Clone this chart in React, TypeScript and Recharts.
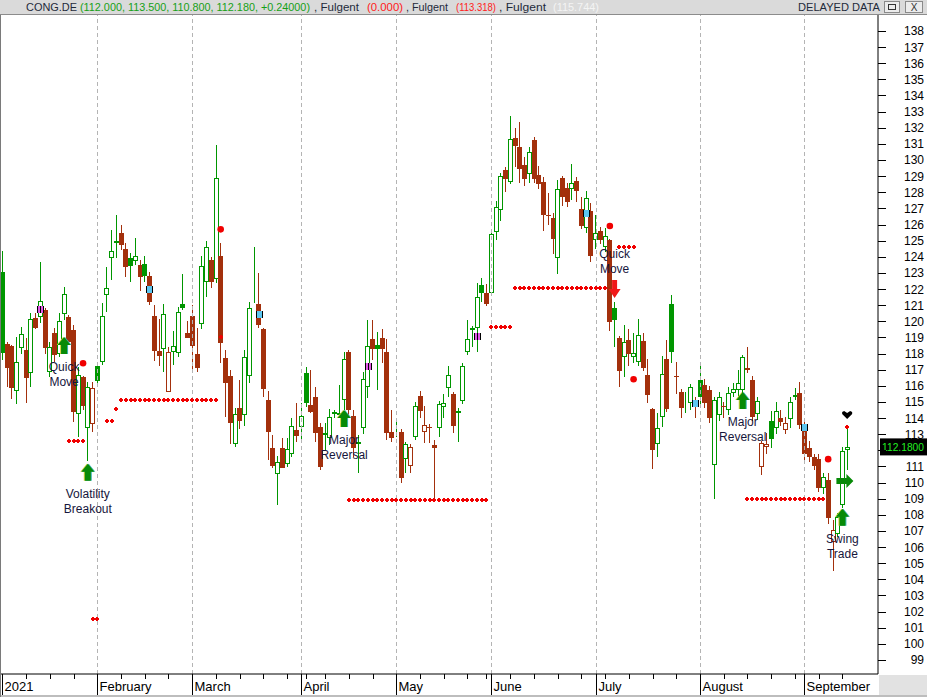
import React from "react";
import {
  ComposedChart,
  Bar,
  Line,
  XAxis,
  YAxis,
  ReferenceLine,
  ReferenceDot,
} from "recharts";

const FONT = '"Liberation Sans", Arial, sans-serif';
const GREEN = "#009600";
const BROWN = "#a3300c";
const RED = "#f00000";

const monthNames = ["2021", "February", "March", "April", "May", "June", "July", "August", "September"];
const holidays = ["2021-04-02", "2021-04-05", "2021-05-24"];

const opens = [
  123.08, 118.59, 118.47, 115.7, 118.32, 118.22, 116.77, 120.18, 120.25, 120.7, 116.88, 119.25, 117.97, 120.45, 120.25, 119.46, 114.23, 116.55, 113.36, 113.61,
  117.23, 117.5, 121.65, 123.9, 124.83, 125.47, 124.48, 123.92, 123.76, 123.49, 123.55, 122.81, 120.33, 118.18, 118.3, 115.64, 118.08, 118.02, 121.07, 119.27,
  120.33, 117.97, 119.81, 122.42, 123.8, 122.6, 124.05, 117.7, 116.61, 112.37, 114.65, 114.17, 116.63, 122.55, 121.07, 119.52, 115.12, 112.17, 110.51, 112.12, 111.15, 111.77, 113.26,
  113.43, 116.77, 114.81, 115.33, 113.47, 112.95, 112.74, 114.4, 114.2, 115.12, 118.12, 114.13, 112.37, 113.36, 115.91, 118.88, 118.51, 118.94, 118.12, 113.12,
  113.2, 113.16, 111.44, 111.05, 112.81, 115.37, 113.12, 113.45, 112.33, 113.36, 114.71, 115.84, 115.49, 114.29, 115.08, 118.08, 119.58, 119.56, 122.25, 121.73,
  121.73, 125.52, 126.9, 129.38, 128.62, 131.34, 130.79, 129.67, 129.13, 131.24, 129.05, 128.64, 126.6, 126.43, 123.95, 128.86, 128.24, 128.18, 128.7, 126.94, 125.76, 126.84,
  125.04, 125.6, 124.58, 125.04, 120.85, 118.99, 117.77, 118.84, 117.77, 117.5, 118.78, 116.65, 114.54, 112.37, 114.05, 117.64, 121.07, 116.6, 115.64, 114.9, 114.91, 115.0,
  116.36, 116.05, 115.74, 111.09, 114.19, 114.75, 114.5, 115.53, 115.74, 115.74, 117.0, 116.36, 114.23, 110.99, 112.23, 113.84, 113.36, 113.98, 113.26, 113.92, 115.32, 115.57,
  113.57, 112.12, 111.61, 111.44, 109.64, 110.16, 106.34, 106.79, 108.61, 112.0,
];
const highs = [
  124.38, 118.7, 118.5, 119.01, 119.67, 118.94, 120.49, 120.49, 123.66, 120.8, 118.74, 119.6, 120.49, 122.11, 120.39, 119.77, 117.15, 116.6, 116.26, 116.26,
  117.4, 121.16, 123.39, 125.66, 126.59, 125.97, 124.83, 124.21, 125.19, 123.8, 124.05, 123.08, 121.01, 120.12, 121.07, 118.39, 119.4, 120.91, 122.93, 120.04,
  121.01, 119.56, 124.05, 124.98, 124.01, 130.93, 124.83, 118.22, 116.98, 114.6, 116.36, 118.22, 121.2, 124.63, 123.01, 119.6, 115.68, 112.95, 111.65, 112.74, 112.74, 113.98, 114.91,
  114.91, 117.15, 117.0, 115.95, 113.67, 113.67, 114.54, 114.5, 116.05, 118.12, 118.2, 114.5, 112.95, 116.88, 120.08, 120.08, 119.36, 119.5, 118.88, 114.5,
  113.8, 113.3, 112.54, 112.4, 115.02, 115.7, 114.75, 113.6, 112.64, 115.06, 115.47, 117.23, 115.6, 114.6, 117.4, 120.08, 119.73, 122.35, 122.66, 122.29,
  125.7, 127.46, 129.2, 129.59, 132.73, 131.96, 132.36, 130.17, 130.83, 131.45, 129.63, 128.93, 127.93, 126.73, 128.76, 129.0, 128.6, 129.75, 128.93, 127.73, 128.1, 127.31,
  126.59, 125.87, 125.8, 125.1, 121.18, 119.1, 119.77, 119.5, 119.25, 120.14, 119.25, 117.64, 114.6, 114.29, 117.85, 118.84, 121.63, 117.5, 115.8, 115.6, 116.11, 115.3,
  117.23, 116.4, 116.0, 115.3, 115.64, 115.0, 115.95, 116.2, 116.98, 117.91, 118.39, 116.6, 115.33, 112.6, 113.05, 114.46, 115.02, 114.5, 114.09, 115.3, 115.84, 116.21,
  113.8, 112.6, 111.8, 111.8, 110.62, 110.62, 107.68, 108.1, 112.19, 113.5,
];
const lows = [
  117.6, 115.95, 115.2, 114.87, 118.0, 114.91, 115.95, 119.5, 119.87, 117.97, 116.57, 117.5, 117.81, 120.08, 118.5, 113.78, 112.81, 114.5, 111.36, 113.16,
  115.95, 117.29, 120.6, 122.56, 123.9, 124.42, 122.77, 122.46, 123.49, 121.9, 122.46, 121.01, 117.56, 117.25, 116.88, 115.64, 117.29, 117.81, 120.7, 118.94,
  116.82, 116.88, 119.54, 121.53, 122.04, 122.39, 117.44, 114.05, 112.37, 112.2, 113.3, 113.5, 116.15, 121.11, 119.6, 115.33, 111.4, 110.9, 108.61, 110.9, 110.95, 111.6, 112.5,
  112.54, 114.7, 114.3, 112.54, 110.78, 112.02, 112.33, 114.0, 114.1, 114.5, 114.2, 111.6, 110.62, 113.0, 115.22, 117.6, 115.74, 117.4, 112.64, 112.5,
  112.8, 110.0, 110.62, 110.6, 112.64, 114.0, 112.43, 112.43, 108.98, 112.8, 113.98, 115.33, 113.05, 112.54, 114.9, 117.9, 118.43, 118.08, 121.2, 120.95,
  121.6, 125.04, 126.24, 128.04, 128.5, 129.59, 128.6, 128.39, 128.6, 128.6, 128.2, 125.62, 125.97, 124.17, 122.91, 127.15, 127.1, 127.52, 127.42, 125.7, 125.5, 123.7,
  124.46, 124.8, 124.3, 119.42, 118.43, 115.9, 116.57, 117.25, 117.4, 117.2, 116.9, 114.91, 110.82, 111.57, 113.43, 114.4, 117.39, 115.5, 113.98, 114.3, 114.5, 114.0,
  114.9, 114.6, 113.67, 109.0, 113.8, 114.0, 114.2, 115.3, 115.33, 115.5, 116.8, 113.8, 113.9, 110.47, 111.8, 112.12, 113.0, 113.5, 113.0, 113.4, 115.1, 113.3,
  111.3, 111.3, 110.8, 109.4, 109.3, 107.4, 104.54, 106.6, 108.4, 110.8,
];
const closes = [
  118.01, 117.08, 115.84, 117.46, 119.19, 116.46, 120.12, 119.6, 121.26, 118.32, 118.39, 117.91, 120.04, 121.69, 118.7, 114.4, 116.65, 114.77, 115.91, 115.84,
  116.32, 120.33, 122.06, 124.34, 124.96, 124.73, 123.39, 123.45, 124.05, 122.77, 122.83, 121.22, 118.18, 117.87, 120.45, 118.08, 118.49, 120.56, 120.85, 118.98,
  118.49, 117.12, 123.43, 124.59, 122.42, 128.86, 118.63, 116.15, 113.67, 114.23, 113.84, 117.77, 120.8, 122.6, 119.77, 115.78, 113.16, 111.03, 111.26, 110.93, 112.06, 113.53, 112.89,
  114.15, 114.91, 114.4, 113.1, 110.99, 113.05, 114.05, 114.23, 114.3, 117.64, 114.5, 112.12, 112.54, 116.4, 118.47, 118.26, 118.28, 118.26, 113.1, 112.79,
  113.22, 110.26, 112.39, 112.19, 114.75, 114.44, 113.57, 113.37, 112.17, 114.87, 114.91, 116.67, 113.53, 114.44, 117.23, 118.88, 119.46, 121.49, 121.78, 121.05,
  125.39, 127.07, 129.01, 128.8, 131.28, 130.87, 129.46, 128.84, 130.52, 128.8, 128.49, 126.59, 126.55, 125.1, 128.18, 127.69, 127.42, 128.55, 128.1, 125.91, 127.67, 124.07,
  125.45, 125.04, 125.29, 119.98, 120.08, 116.94, 118.72, 117.95, 118.02, 119.15, 117.13, 115.43, 112.02, 113.36, 116.73, 114.56, 118.12, 116.52, 114.6, 114.92, 115.95, 114.7,
  115.33, 114.91, 113.98, 115.12, 115.29, 114.7, 115.53, 115.78, 116.15, 117.77, 117.08, 114.09, 115.06, 112.43, 112.4, 112.7, 114.46, 113.74, 113.67, 114.98, 115.4, 113.57,
  111.75, 111.61, 111.03, 109.69, 110.37, 107.78, 107.06, 107.89, 111.94, 112.18,
];

// stop-level dotted lines (index ranges on the candle axis)
const stopFrom = [14, 19, 22, 24, 25, 46, 73, 103, 108, 130, 157, 178];
const stopTo = [17, 20, 23, 24, 45, 46, 102, 107, 127, 133, 173, 178];
const stopLevel = [112.6, 101.55, 113.82, 114.56, 115.12, 119.03, 108.92, 119.67, 122.05, 124.63, 108.98, 113.43];

// big red dots
const sigIdx = [17, 46, 128, 133, 174];
const sigPrice = [117.4, 125.7, 125.91, 116.41, 111.45];

// small coloured markers on candles
const markIdx = [8, 31, 54, 77, 100, 123, 146, 169];
const markPrice = [120.74, 121.98, 120.44, 117.21, 119.06, 126.74, 114.92, 113.45];
const markKind = ["pink", "blue", "blue", "pink", "pink", "blue", "blue", "blue"];

// text annotations with arrows
const noteIdx = [13, 18, 72, 129, 156, 177];
const notePrice = [119.03, 111.16, 114.5, 121.45, 115.62, 108.37];
const noteDir = ["up", "up", "up", "down", "up", "up"];
const noteText = [
  ["Quick", "Move"],
  ["Volatility", "Breakout"],
  ["Major", "Reversal"],
  ["Quick", "Move"],
  ["Major", "Reversal"],
  ["Swing", "Trade"],
];

const priceTicks = Array.from({ length: 40 }, (_, k) => 99 + k);
const emptySlots = 6;
const lastClose = closes[closes.length - 1];

function tradingDays(n: number) {
  const out: Date[] = [];
  const d = new Date(Date.UTC(2021, 0, 4));
  while (out.length < n) {
    const dow = d.getUTCDay();
    const key = d.toISOString().slice(0, 10);
    if (dow !== 0 && dow !== 6 && !holidays.includes(key)) out.push(new Date(d.getTime()));
    d.setUTCDate(d.getUTCDate() + 1);
  }
  return out;
}

const dates = tradingDays(opens.length);
const monthStarts: number[] = [];
const weekStarts: number[] = [];
dates.forEach((d, i) => {
  if (i === 0 || d.getUTCMonth() !== dates[i - 1].getUTCMonth()) monthStarts.push(i);
  else if (d.getUTCDay() < dates[i - 1].getUTCDay()) weekStarts.push(i);
});
const axisTicks = [...monthStarts, ...weekStarts].sort((a, b) => a - b);

const rows = Array.from({ length: opens.length + emptySlots }, (_, i) => {
  if (i >= opens.length) return { i };
  const s = stopFrom.findIndex((f, k) => i >= f && i <= stopTo[k]);
  const g = sigIdx.indexOf(i);
  const m = markIdx.indexOf(i);
  return {
    i,
    o: opens[i],
    h: highs[i],
    l: lows[i],
    c: closes[i],
    prev: i > 0 ? closes[i - 1] : closes[i],
    stop: s >= 0 ? stopLevel[s] : null,
    sig: g >= 0 ? sigPrice[g] : null,
    mark: m >= 0 ? markPrice[m] : null,
    kind: m >= 0 ? markKind[m] : null,
  };
});

const Candle = (props: any) => {
  const { x, y, width, height, payload } = props;
  if (!payload || payload.h == null) return <g />;
  const top = Math.min(y, y + height);
  const span = Math.abs(height);
  const range = payload.h - payload.l || 1;
  const py = (v: number) => top + ((payload.h - v) / range) * span;
  const cx = Math.round(x + width / 2 - 0.5);
  const col = payload.c >= payload.prev ? GREEN : BROWN;
  const hollow = payload.c > payload.o;
  const bTop = Math.round(py(Math.max(payload.o, payload.c)));
  const bBot = Math.round(py(Math.min(payload.o, payload.c)));
  return (
    <g>
      <line x1={cx + 0.5} x2={cx + 0.5} y1={Math.round(top)} y2={Math.round(top + span)} stroke={col} strokeWidth={1} />
      {hollow ? (
        <rect x={cx - 1.5} y={bTop + 0.5} width={4} height={Math.max(bBot - bTop - 1, 0)} fill="#fff" stroke={col} strokeWidth={1} />
      ) : (
        <rect x={cx - 2} y={bTop} width={5} height={Math.max(bBot - bTop, 1)} fill={col} />
      )}
    </g>
  );
};

const StopDot = (p: any) => {
  if (p.value == null || p.cy == null || p.payload?.stop == null) return <g key={`s${p.index}`} />;
  const x = Math.round(p.cx);
  const y = Math.round(p.cy);
  return (
    <g key={`s${p.index}`} fill={RED}>
      <rect x={x - 2} y={y - 1} width={4} height={2} />
      <rect x={x - 1} y={y - 2} width={2} height={4} />
    </g>
  );
};

const SigDot = (p: any) => {
  if (p.value == null || p.cy == null || p.payload?.sig == null) return <g key={`g${p.index}`} />;
  return <circle key={`g${p.index}`} cx={p.cx} cy={p.cy} r={3.3} fill={RED} />;
};

const MarkDot = (p: any) => {
  if (p.value == null || p.cy == null || p.payload?.mark == null) return <g key={`m${p.index}`} />;
  const x = Math.round(p.cx);
  const y = Math.round(p.cy);
  const pink = p.payload.kind === "pink";
  return (
    <g key={`m${p.index}`}>
      <rect x={x - 3} y={y - 3} width={7} height={7} fill={pink ? "#e15ae6" : "#5cc6f0"} />
      <rect x={x - 3} y={y - 3} width={1} height={7} fill="#000" />
      <rect x={x + 3} y={y - 3} width={1} height={7} fill="#000" />
      {pink && <rect x={x} y={y - 3} width={1} height={7} fill="#000" />}
    </g>
  );
};

const upArrow = (cx: number, cy: number, fill: string) => {
  const pts = (dx: number) =>
    [
      [cx + dx, cy],
      [cx + dx + 6.5, cy + 8],
      [cx + dx + 3, cy + 8],
      [cx + dx + 3, cy + 17],
      [cx + dx - 3, cy + 17],
      [cx + dx - 3, cy + 8],
      [cx + dx - 6.5, cy + 8],
    ]
      .map((q) => q.join(","))
      .join(" ");
  return (
    <g>
      <polygon points={pts(-1)} fill="#d2d23c" />
      <polygon points={pts(1)} fill="#3cb4b4" />
      <polygon points={pts(0)} fill={fill} />
    </g>
  );
};

const Note = (k: number) => (p: any) => {
  const cx = p.cx;
  const cy = p.cy;
  const lines = noteText[k];
  if (noteDir[k] === "down") {
    const pts = [
      [cx, cy],
      [cx + 6, cy - 9],
      [cx + 2.5, cy - 9],
      [cx + 2.5, cy - 18],
      [cx - 2.5, cy - 18],
      [cx - 2.5, cy - 9],
      [cx - 6, cy - 9],
    ]
      .map((q) => q.join(","))
      .join(" ");
    return (
      <g>
        <text x={cx} y={cy - 40} textAnchor="middle" fontSize={12} fontFamily={FONT} fill="#16163c">{lines[0]}</text>
        <text x={cx} y={cy - 25} textAnchor="middle" fontSize={12} fontFamily={FONT} fill="#16163c">{lines[1]}</text>
        <polygon points={pts} fill="#f01818" />
      </g>
    );
  }
  return (
    <g>
      {upArrow(cx, cy, "#078a07")}
      <text x={cx} y={cy + 34} textAnchor="middle" fontSize={12} fontFamily={FONT} fill="#16163c">{lines[0]}</text>
      <text x={cx} y={cy + 49} textAnchor="middle" fontSize={12} fontFamily={FONT} fill="#16163c">{lines[1]}</text>
    </g>
  );
};

const RightArrow = (p: any) => {
  const cx = p.cx;
  const cy = p.cy;
  const pts = [
    [cx + 11, cy],
    [cx + 4, cy - 7],
    [cx + 4, cy - 3],
    [cx - 6, cy - 3],
    [cx - 6, cy + 3],
    [cx + 4, cy + 3],
    [cx + 4, cy + 7],
  ]
    .map((q) => q.join(","))
    .join(" ");
  return <polygon points={pts} fill="#078a07" />;
};

const Chevron = (p: any) => {
  const cx = p.cx;
  const cy = p.cy;
  const pts = [
    [cx - 5, cy - 3],
    [cx - 3, cy - 4],
    [cx, cy - 2],
    [cx + 3, cy - 4],
    [cx + 5, cy - 3],
    [cx + 5, cy - 1],
    [cx, cy + 4],
    [cx - 5, cy - 1],
  ]
    .map((q) => q.join(","))
    .join(" ");
  return <polygon points={pts} fill="#000" />;
};

const PriceTick = (p: any) => {
  const y = Math.round(p.y) + 0.5;
  // the last-price tag sits over this label, as in the original
  const hidden = Math.abs(p.payload.value - lastClose) < 0.5;
  return (
    <g>
      <line x1={p.x} x2={p.x + 8} y1={y} y2={y} stroke="#000" />
      {!hidden && (
        <text x={p.x + 46} y={p.y + 4.5} textAnchor="end" fontSize={12} fontFamily={FONT} fill="#000">
          {p.payload.value}
        </text>
      )}
    </g>
  );
};

const DateTick = (p: any) => {
  const idx = p.payload.value;
  const x = Math.round(p.x) + 0.5;
  const m = monthStarts.indexOf(idx);
  if (m >= 0) {
    return (
      <g>
        <line x1={x} x2={x} y1={p.y} y2={p.y + 21} stroke="#000" />
        <text x={x + 2} y={p.y + 17} fontSize={13} fontFamily={FONT} fill="#000">
          {monthNames[m]}
        </text>
      </g>
    );
  }
  return <line x1={x} x2={x} y1={p.y} y2={p.y + 5} stroke="#000" />;
};

const PriceTag = (p: any) => {
  const vb = p.viewBox || {};
  const right = vb.x + vb.width;
  const cy = vb.y;
  return (
    <g>
      <rect x={right + 2} y={cy - 9} width={47} height={17} fill="#000" />
      <text x={right + 4} y={cy + 4} fontSize={11} fontFamily={FONT} fill="#22ee22" textLength={42} lengthAdjust="spacingAndGlyphs">
        {lastClose.toFixed(4)}
      </text>
    </g>
  );
};

const GridLine = (p: any) => {
  const x = Math.round(p.x1) + 0.5;
  return <line x1={x} x2={x} y1={p.y1} y2={p.y2} stroke="#b4b4b4" strokeDasharray="4 3" />;
};

const headerParts: [string, number, number, string][] = [
  ["CONG.DE", 26, 51, "#1e2a3a"],
  ["(112.000, 113.500, 110.800, 112.180, +0.24000)", 80, 230, "#16a016"],
  [", Fulgent", 314, 45, "#1e2a3a"],
  ["(0.000)", 367, 36, "#ff2020"],
  [", Fulgent", 406, 42, "#1e2a3a"],
  ["(113.318)", 456, 40, "#ff2020"],
  [", Fulgent", 499, 47, "#1e2a3a"],
  ["(115.744)", 553, 46, "#f4f4f4"],
  ["DELAYED DATA", 798, 82, "#1e2a3a"],
];

export default function App() {
  return (
    <div style={{ position: "absolute", left: 0, top: 0, width: 927, height: 697, background: "#fff", overflow: "hidden" }}>
      <ComposedChart width={927} height={697} data={rows} margin={{ top: 15, right: 0, bottom: 0, left: 0 }}>
        <XAxis
          dataKey="i"
          type="category"
          height={23}
          ticks={axisTicks}
          interval={0}
          tickSize={0}
          tickMargin={0}
          tick={DateTick}
          axisLine={{ stroke: "#000" }}
        />
        <YAxis
          orientation="right"
          width={49}
          domain={[98.13, 138.99]}
          allowDataOverflow
          ticks={priceTicks}
          interval={0}
          tickSize={0}
          tickMargin={0}
          tick={PriceTick}
          axisLine={{ stroke: "#000" }}
        />
        {monthStarts.slice(1).map((ix) => (
          <ReferenceLine key={`m${ix}`} x={ix} shape={GridLine} />
        ))}
        <Bar dataKey={(d: any) => (d.h == null ? null : [d.l, d.h])} shape={Candle} isAnimationActive={false} />
        <Line dataKey="stop" stroke="none" dot={StopDot} activeDot={false} isAnimationActive={false} />
        <Line dataKey="sig" stroke="none" dot={SigDot} activeDot={false} isAnimationActive={false} />
        <Line dataKey="mark" stroke="none" dot={MarkDot} activeDot={false} isAnimationActive={false} />
        {noteIdx.map((ix, k) => (
          <ReferenceDot key={`n${k}`} x={ix} y={notePrice[k]} ifOverflow="visible" shape={Note(k)} />
        ))}
        <ReferenceDot x={177} y={110.1} ifOverflow="visible" shape={RightArrow} />
        <ReferenceDot x={178} y={114.19} ifOverflow="visible" shape={Chevron} />
        <ReferenceLine y={lastClose} stroke="none" ifOverflow="visible" label={PriceTag} />
      </ComposedChart>
      <svg width={927} height={15} style={{ position: "absolute", left: 0, top: 0 }}>
        <rect x={0} y={0} width={927} height={15} fill="#dadada" />
        <line x1={0} x2={927} y1={14.5} y2={14.5} stroke="#8c8c8c" />
        {headerParts.map(([t, x, w, c], k) => (
          <text key={k} x={x} y={11} fontSize={11} fontFamily={FONT} fill={c} textLength={w} lengthAdjust="spacingAndGlyphs">
            {t}
          </text>
        ))}
        <rect x={884.5} y={1.5} width={15} height={11} fill="#ececec" stroke="#8a8a8a" />
        <rect x={888.5} y={4.5} width={7} height={5} fill="none" stroke="#333" />
        <rect x={905.5} y={1.5} width={17} height={11} fill="#ececec" stroke="#8a8a8a" />
        <text x={914} y={11} textAnchor="middle" fontSize={10} fontFamily={FONT} fill="#333">X</text>
      </svg>
      <div style={{ position: "absolute", left: 879, top: 675, width: 48, height: 22, background: "#e2e2e2" }} />
      <div style={{ position: "absolute", left: 0, top: 695, width: 927, height: 2, background: "#bdbdbd" }} />
      <div style={{ position: "absolute", left: 0, top: 15, width: 1, height: 682, background: "#7a7a7a" }} />
    </div>
  );
}
